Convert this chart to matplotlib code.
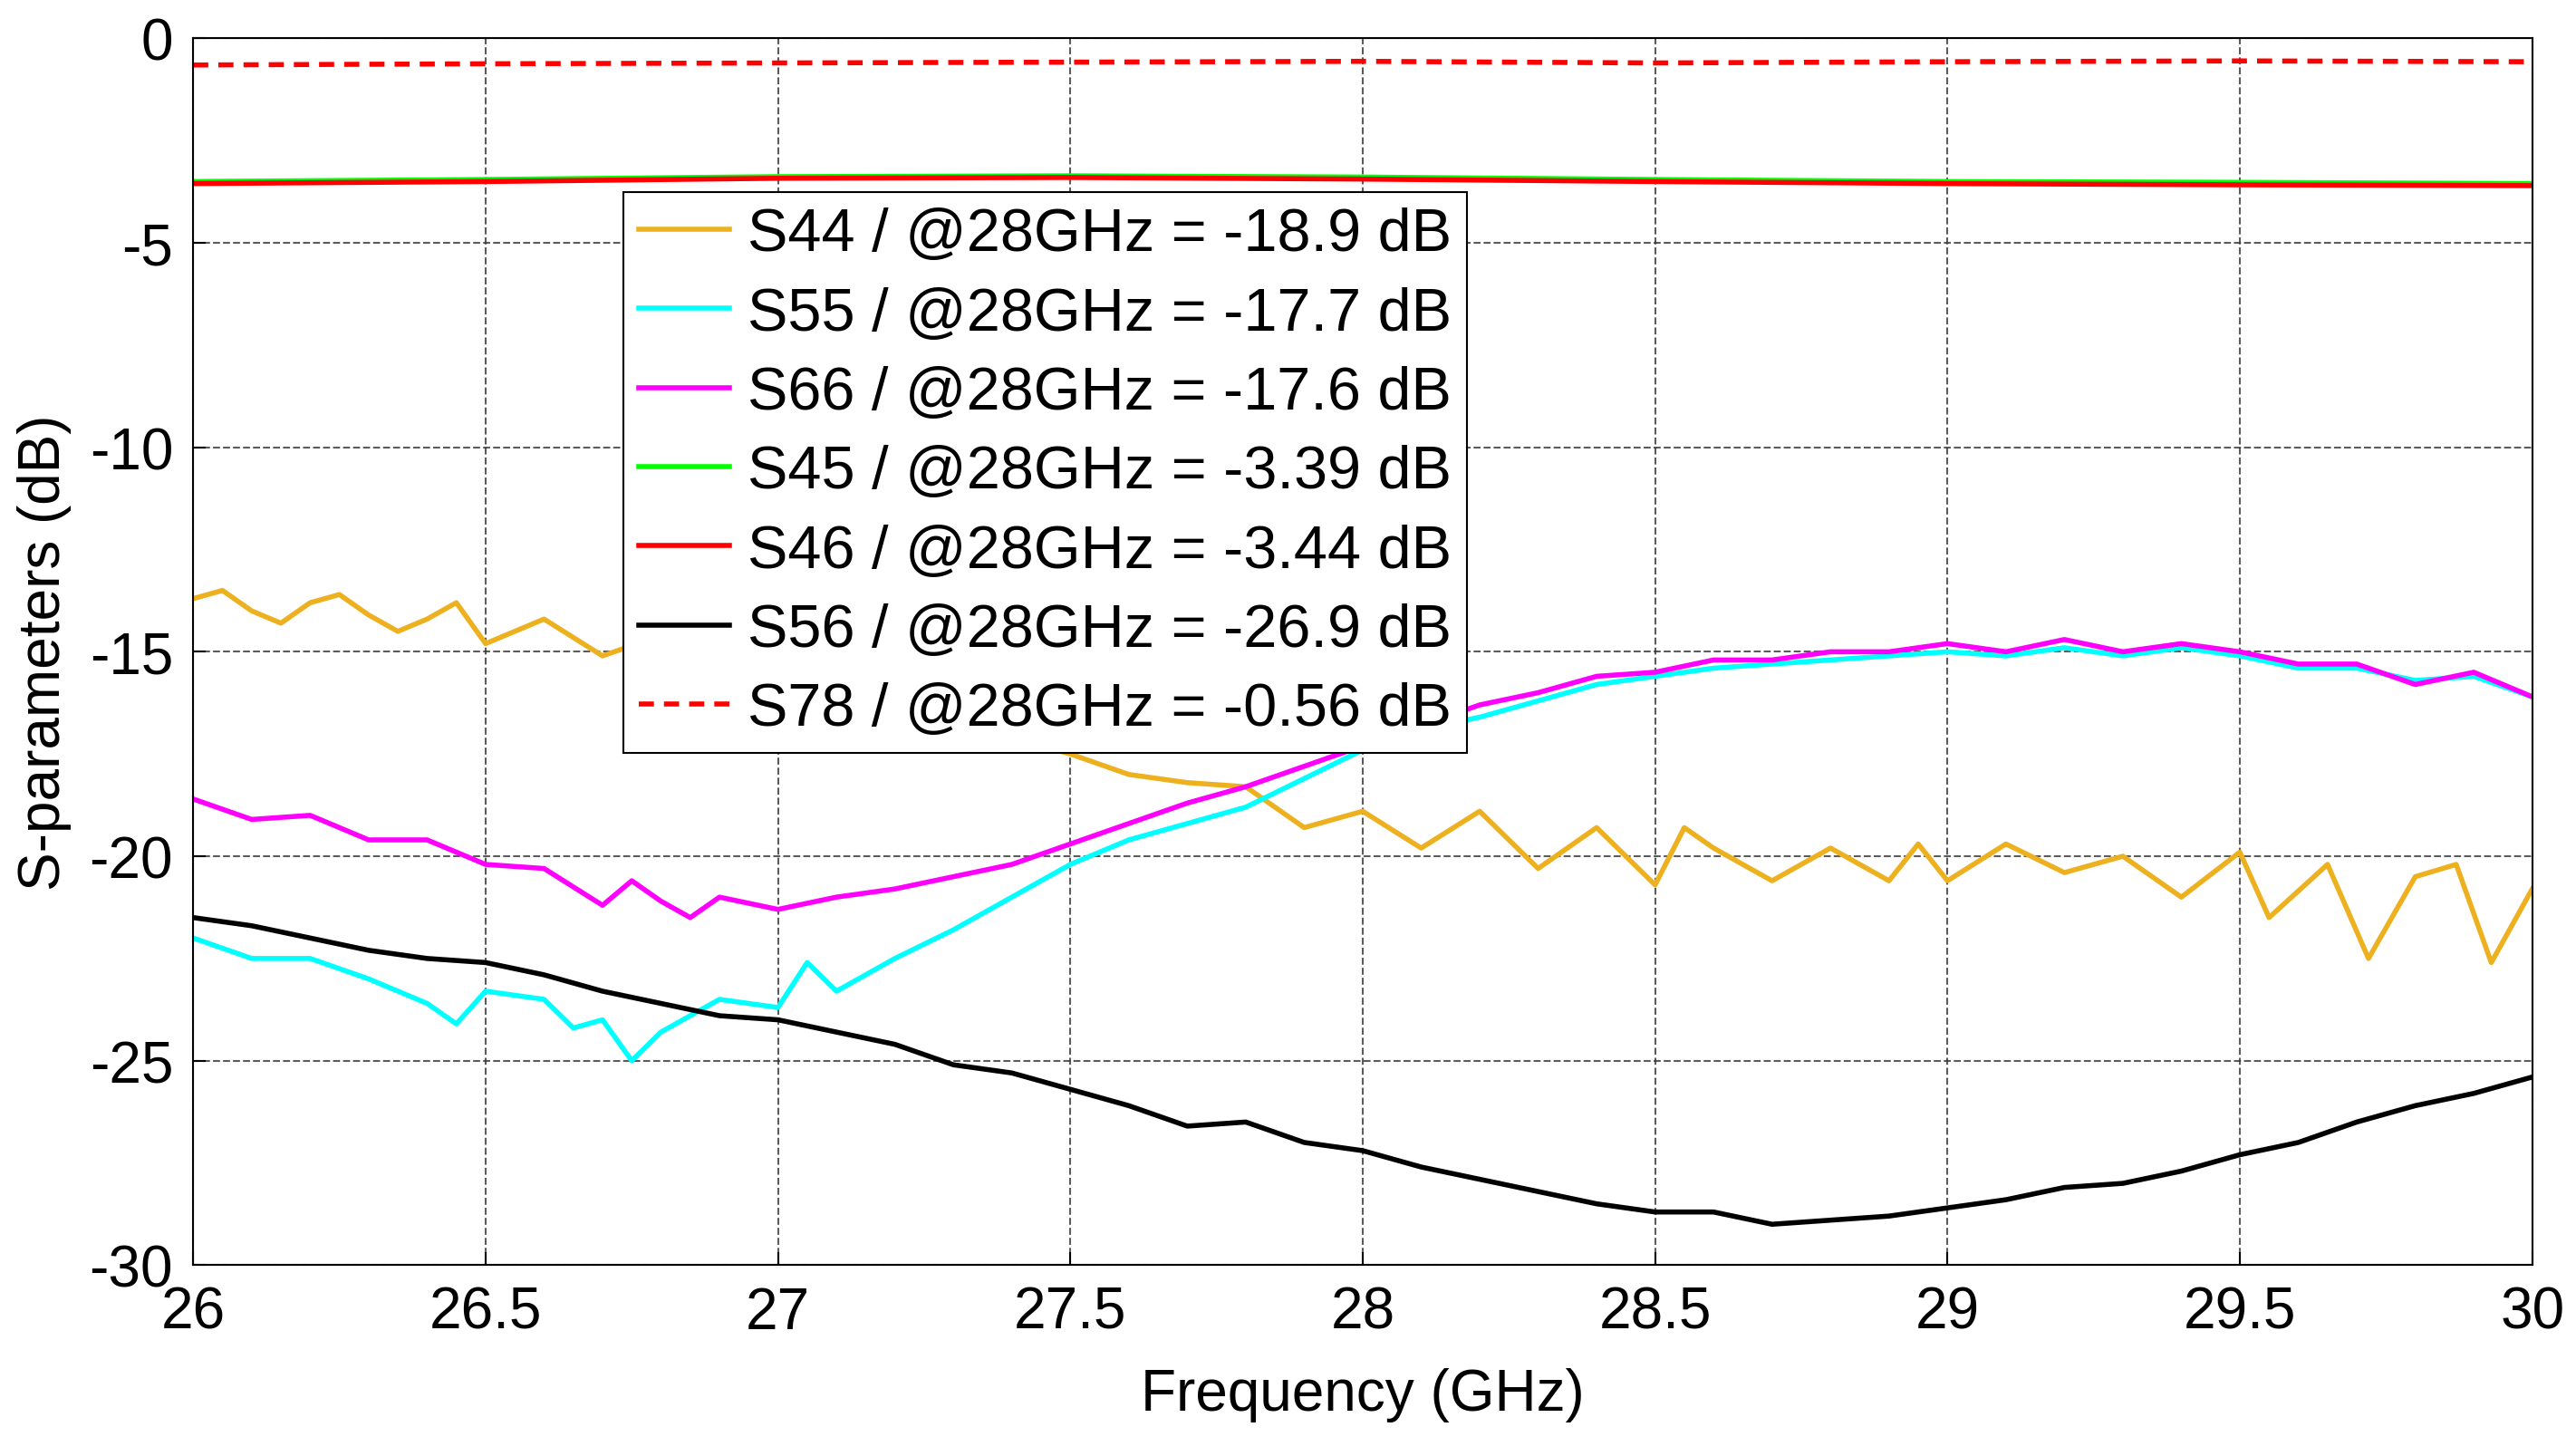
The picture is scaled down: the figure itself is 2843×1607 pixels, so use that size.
import matplotlib
matplotlib.use("Agg")
import matplotlib.pyplot as plt
import numpy as np

plt.rcParams['font.family'] = ['Liberation Sans', 'DejaVu Sans']
plt.rcParams['axes.unicode_minus'] = False

f44 = [26,26.05,26.1,26.15,26.2,26.25,26.3,26.35,26.4,26.45,26.5,26.6,26.7,26.8,27.0,27.2,27.5,27.6,27.7,27.8,27.9,28,28.1,28.2,28.3,28.4,28.5,28.55,28.6,28.7,28.8,28.9,28.95,29,29.1,29.2,29.3,29.4,29.5,29.55,29.65,29.72,29.8,29.87,29.93,30]
s44 = [-13.7,-13.5,-14,-14.3,-13.8,-13.6,-14.1,-14.5,-14.2,-13.8,-14.8,-14.2,-15.1,-14.6,-15.5,-16.3,-17.5,-18,-18.2,-18.3,-19.3,-18.9,-19.8,-18.9,-20.3,-19.3,-20.7,-19.3,-19.8,-20.6,-19.8,-20.6,-19.7,-20.6,-19.7,-20.4,-20.0,-21,-19.9,-21.5,-20.2,-22.5,-20.5,-20.2,-22.6,-20.8]

f55 = [26,26.1,26.2,26.3,26.4,26.45,26.5,26.6,26.65,26.7,26.75,26.8,26.9,27,27.05,27.1,27.2,27.3,27.4,27.5,27.6,27.7,27.8,27.9,28,28.1,28.2,28.3,28.4,28.5,28.6,28.7,28.8,28.9,29,29.1,29.2,29.3,29.4,29.5,29.6,29.7,29.8,29.9,30]
s55 = [-22,-22.5,-22.5,-23,-23.6,-24.1,-23.3,-23.5,-24.2,-24,-25,-24.3,-23.5,-23.7,-22.6,-23.3,-22.5,-21.8,-21,-20.2,-19.6,-19.2,-18.8,-18.1,-17.4,-16.9,-16.6,-16.2,-15.8,-15.6,-15.4,-15.3,-15.2,-15.1,-15.0,-15.1,-14.9,-15.1,-14.9,-15.1,-15.4,-15.4,-15.7,-15.6,-16.1]

f66 = [26,26.1,26.2,26.3,26.4,26.5,26.6,26.7,26.75,26.8,26.85,26.9,27,27.1,27.2,27.3,27.4,27.5,27.6,27.7,27.8,27.9,28,28.1,28.2,28.3,28.4,28.5,28.6,28.7,28.8,28.9,29,29.1,29.2,29.3,29.4,29.5,29.6,29.7,29.8,29.9,30]
s66 = [-18.6,-19.1,-19,-19.6,-19.6,-20.2,-20.3,-21.2,-20.6,-21.1,-21.5,-21,-21.3,-21,-20.8,-20.5,-20.2,-19.7,-19.2,-18.7,-18.3,-17.8,-17.3,-16.8,-16.3,-16,-15.6,-15.5,-15.2,-15.2,-15,-15,-14.8,-15,-14.7,-15,-14.8,-15,-15.3,-15.3,-15.8,-15.5,-16.1]

f56 = [26,26.1,26.2,26.3,26.4,26.5,26.6,26.7,26.8,26.9,27,27.1,27.2,27.3,27.4,27.5,27.6,27.7,27.8,27.9,28,28.1,28.2,28.3,28.4,28.5,28.6,28.7,28.8,28.9,29,29.1,29.2,29.3,29.4,29.5,29.6,29.7,29.8,29.9,30]
s56 = [-21.5,-21.7,-22.0,-22.3,-22.5,-22.6,-22.9,-23.3,-23.6,-23.9,-24.0,-24.3,-24.6,-25.1,-25.3,-25.7,-26.1,-26.6,-26.5,-27,-27.2,-27.6,-27.9,-28.2,-28.5,-28.7,-28.7,-29.0,-28.9,-28.8,-28.6,-28.4,-28.1,-28,-27.7,-27.3,-27.0,-26.5,-26.1,-25.8,-25.4]

fflat = [26,26.5,27,27.5,28,28.5,29,29.5,30]
s45 = [-3.5,-3.45,-3.38,-3.36,-3.39,-3.45,-3.5,-3.52,-3.55]
s46 = [-3.55,-3.5,-3.42,-3.4,-3.44,-3.5,-3.55,-3.58,-3.6]
s78 = [-0.65,-0.62,-0.6,-0.58,-0.56,-0.6,-0.57,-0.55,-0.57]

fig = plt.figure(figsize=(28.43, 16.08), dpi=100)
ax = fig.add_axes([0.075, 0.131, 0.908, 0.842])
lw = 4
ax.plot(f44, s44, color='#EDB120', lw=lw, label='S44 / @28GHz = -18.9 dB')
ax.plot(f55, s55, color='#00FFFF', lw=lw, label='S55 / @28GHz = -17.7 dB')
ax.plot(f66, s66, color='#FF00FF', lw=lw, label='S66 / @28GHz = -17.6 dB')
ax.plot(fflat, s45, color='#00FF00', lw=lw, label='S45 / @28GHz = -3.39 dB')
ax.plot(fflat, s46, color='#FF0000', lw=lw, label='S46 / @28GHz = -3.44 dB')
ax.plot(f56, s56, color='black', lw=lw, label='S56 / @28GHz = -26.9 dB')
ax.plot(fflat, s78, color='#FF0000', lw=lw, ls=(0, (3, 2)), label='S78 / @28GHz = -0.56 dB')

ax.set_xlim(26, 30)
ax.set_ylim(-30, 0)
ax.set_xticks(np.arange(26, 30.01, 0.5))
ax.set_xticklabels(['26','26.5','27','27.5','28','28.5','29','29.5','30'])
ax.set_yticks(np.arange(-30, 0.1, 5))
ax.grid(True, ls='--', color='#333333', lw=1.5, alpha=0.8)
ax.tick_params(labelsize=46, direction='in', length=10, width=1.5, pad=16)
for sp in ax.spines.values():
    sp.set_linewidth(1.5)
ax.set_xlabel('Frequency (GHz)', fontsize=46, labelpad=22)
ax.set_ylabel('S-parameters (dB)', fontsize=46, labelpad=14)
leg = ax.legend(loc='upper left', bbox_to_anchor=(0.184, 0.875), fontsize=48,
                frameon=True, fancybox=False, edgecolor='black', framealpha=1,
                handlelength=1.5, handletextpad=0.3, borderpad=0.25, labelspacing=0.38,
                borderaxespad=0)
leg.get_frame().set_linewidth(1.5)
fig.savefig('out.png', dpi=100)
